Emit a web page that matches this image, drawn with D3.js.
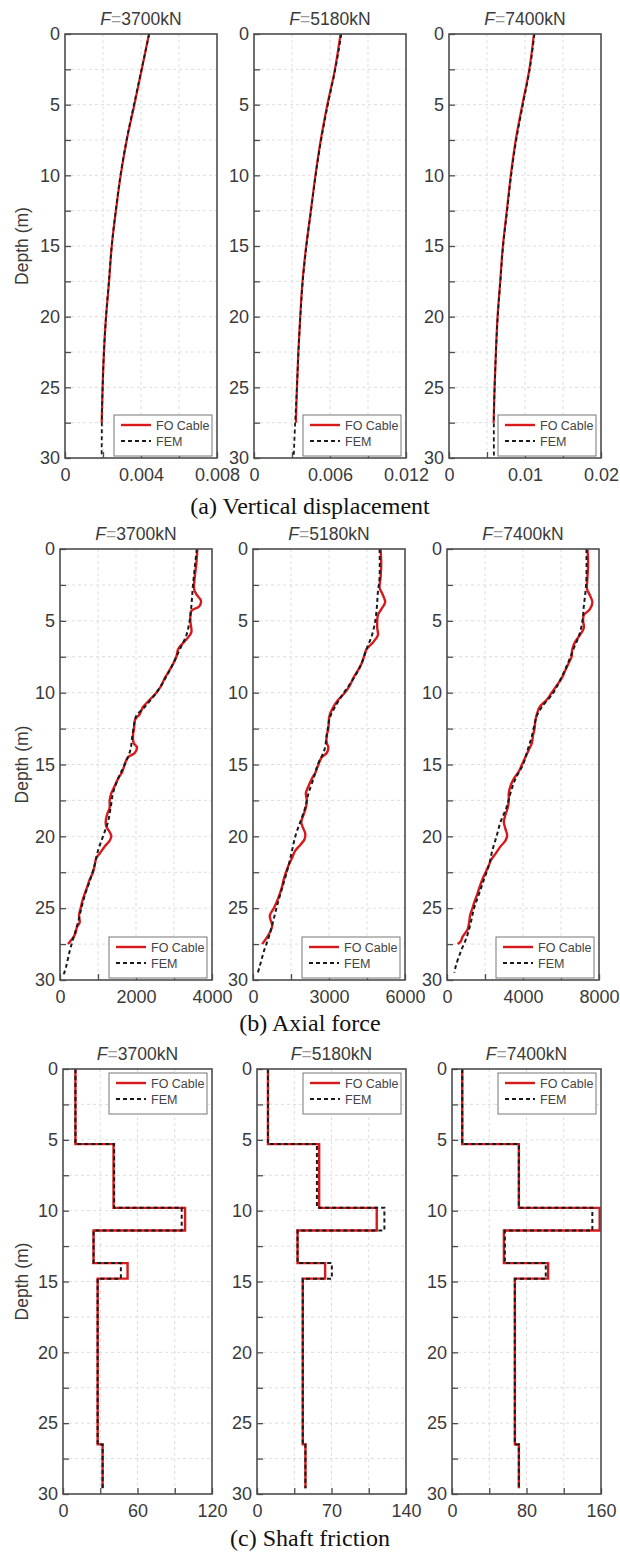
<!DOCTYPE html>
<html>
<head>
<meta charset="utf-8">
<script src="https://cdn.jsdelivr.net/npm/d3@7"></script>
<style>
  html, body { margin: 0; padding: 0; background: #fff; }
  svg { display: block; }
</style>
</head>
<body>
<svg id="chart" width="620" height="1555"></svg>
<script>
// ---------------- DATA ----------------
const loads = ["3700", "5180", "7400"];
const depthTicks = [0, 2.5, 5, 7.5, 10, 12.5, 15, 17.5, 20, 22.5, 25, 27.5, 30];

// (a) Vertical displacement (m)
const dispDepthFO = [0, 2.5, 5, 7.5, 10, 12.5, 15, 17.5, 20, 22.5, 25, 27.5];
const dispDepthFEM = [0, 2.5, 5, 7.5, 10, 12.5, 15, 17.5, 20, 22.5, 25, 27.5, 30];
const dispFO_3700 = [0.00442, 0.00404, 0.00365, 0.00325, 0.00293, 0.00268, 0.00246, 0.00232, 0.00216, 0.00205, 0.00198, 0.00193];
const dispFEM_3700 = [0.00443, 0.00403, 0.00363, 0.00324, 0.00292, 0.00267, 0.00246, 0.00231, 0.00216, 0.00205, 0.00198, 0.00194, 0.00193];
const dispFO_5180 = [0.00683, 0.00639, 0.00579, 0.00527, 0.00485, 0.00449, 0.00412, 0.00383, 0.00365, 0.00350, 0.00339, 0.00331];
const dispFEM_5180 = [0.00690, 0.00642, 0.00583, 0.00530, 0.00487, 0.00450, 0.00414, 0.00385, 0.00366, 0.00351, 0.00339, 0.00325, 0.00313];
const dispFO_7400 = [0.01117, 0.01057, 0.00965, 0.00878, 0.00813, 0.00761, 0.00709, 0.00674, 0.00639, 0.00617, 0.00600, 0.00587];
const dispFEM_7400 = [0.01125, 0.01062, 0.00972, 0.00885, 0.00818, 0.00765, 0.00712, 0.00676, 0.00641, 0.00618, 0.00600, 0.00590, 0.00591];
const dispXMax = [0.008, 0.012, 0.02];
const dispTickLabels = [["0", "0.004", "0.008"], ["0", "0.006", "0.012"], ["0", "0.01", "0.02"]];

// (b) Axial force (kN)
const axDepthFO_3700 = [0,1,2,2.8,3.2,3.6,4.0,4.3,5,5.8,6.3,6.8,7,7.5,8,8.5,9,9.5,10,10.5,11,11.5,11.8,12,12.5,13,13.5,13.8,14.2,14.5,15,15.5,16,16.5,17,17.5,18,18.5,19,19.3,19.7,20,20.3,20.7,21.2,21.5,22,22.5,23,23.5,24,24.5,25,25.5,26,26.3,26.7,27,27.3,27.5];
const axFO_3700 = [3614,3588,3544,3530,3600,3710,3660,3460,3430,3456,3325,3150,3105,3061,2974,2868,2754,2667,2535,2360,2184,2096,1991,1965,1947,1921,1938,2026,1965,1789,1702,1640,1526,1439,1351,1307,1307,1237,1202,1219,1307,1351,1307,1175,1044,956,912,868,781,719,649,588,544,500,518,447,412,360,272,210];
const axDepthFEM_3700 = [0,2.5,4,5,6,7,8,9,10,11,11.6,12,13,14,15,16,17,18,19,20,21,22,23,24,25,26,27,28,29,29.6];
const axFEM_3700 = [3600,3500,3456,3412,3325,3150,2974,2772,2535,2228,2009,1965,1903,1851,1702,1526,1395,1333,1263,1132,1000,912,798,667,561,474,360,254,167,100];

const axDepthFO_5180 = [0,1,2,2.7,3.2,3.7,4.2,4.6,5,5.5,6,6.5,7,7.5,8,8.5,9,9.5,10,10.5,11,11.5,11.8,12.5,13,13.5,13.8,14.2,14.5,15,15.5,16,16.5,17,17.5,18,18.5,19,19.5,19.8,20.2,20.6,21,21.5,22,22.5,23,23.5,24,24.5,25,25.5,25.8,26.2,26.6,27,27.5];
const axFO_5180 = [5035,5061,5035,4996,5126,5217,5061,4930,4904,4904,4930,4735,4474,4383,4278,4122,3952,3822,3626,3365,3170,3039,3000,2974,2909,2909,2974,2909,2713,2583,2478,2322,2191,2087,2126,2087,1996,1904,1996,2061,2035,1865,1670,1539,1409,1304,1213,1148,1057,952,822,665,691,757,691,561,365];
const axDepthFEM_5180 = [0,2,3,4,5,6,7,8,9,10,11,11.7,12,13,14,15,16,17,18,19,20,21,22,23,24,25,26,27,28,29,29.6];
const axFEM_5180 = [4996,4996,4930,4891,4826,4696,4474,4278,3978,3587,3235,3039,3000,2909,2817,2557,2387,2191,2061,1865,1670,1539,1409,1252,1083,926,783,626,430,274,170];

const axDepthFO_7400 = [0,1,2,2.8,3.2,3.7,4.2,4.6,5,5.5,6,6.5,7,7.5,8,8.5,9,9.5,10,10.5,11,11.5,12,12.5,13,13.5,14,14.5,15,15.5,16,16.5,17,17.5,18,18.5,19,19.5,19.9,20.3,20.7,21.2,21.7,22,22.5,23,23.5,24,24.5,25,25.5,26,26.5,27,27.3,27.5];
const axFO_7400 = [7391,7426,7391,7374,7513,7652,7513,7200,7165,7200,6991,6730,6591,6557,6383,6209,6035,5774,5513,5252,4870,4730,4643,4609,4522,4470,4296,4122,3948,3774,3513,3339,3252,3252,3200,3078,2991,3078,3165,3078,2817,2557,2296,2209,2035,1861,1722,1600,1461,1339,1217,1165,1078,817,730,557];
const axDepthFEM_7400 = [0,2,3,4,5,6,7,8,9,10,11,11.6,12,13,14,15,16,17,18,19,20,21,22,23,24,25,26,27,28,29,29.5];
const axFEM_7400 = [7339,7339,7287,7200,7130,6957,6643,6348,6000,5600,4991,4730,4643,4470,4243,4000,3600,3339,3130,2817,2609,2383,2209,1948,1687,1426,1252,1043,730,470,383];
const axXMax = [4000, 6000, 8000];
const axTickLabels = [["0", "2000", "4000"], ["0", "3000", "6000"], ["0", "4000", "8000"]];

// (c) Shaft friction (kPa) – layered values
const layerBounds = [0, 5.3, 9.8, 11.4, 13.7, 14.8, 26.5, 29.6];
const friFO_3700 = [10, 40.7, 98.3, 24.6, 52, 27.9, 31.9];
const friFEM_3700 = [10, 41.2, 95.6, 24.6, 46.6, 27.9, 31.9];
const friFO_5180 = [10.3, 58.4, 112.5, 38.1, 64, 43, 45.5];
const friFEM_5180 = [10.3, 56.3, 119.7, 38.1, 70.3, 43, 45.5];
const friFO_7400 = [11, 71.8, 158.6, 55.7, 103.2, 67.5, 71.8];
const friFEM_7400 = [11, 71.8, 150.7, 56.8, 100.7, 67.5, 71.8];
const friXMax = [120, 140, 160];
const friTickLabels = [["0", "60", "120"], ["0", "70", "140"], ["0", "80", "160"]];

const captions = ["(a) Vertical displacement", "(b) Axial force", "(c) Shaft friction"];
const legendLabels = ["FO Cable", "FEM"];

// ---------------- HELPERS ----------------
const zip = (ds, vs) => ds.map((d, i) => ({ d: d, v: vs[i] }));
function stepPts(bounds, vals) {
  const pts = [];
  vals.forEach((v, i) => { pts.push({ d: bounds[i], v: v }); pts.push({ d: bounds[i + 1], v: v }); });
  return pts;
}

const svg = d3.select("#chart");
const RED = "#d7191c";
const AXIS = "#4d4d4d";
const TXT = "#3a3a3a";
const SANS = "'Liberation Sans', Arial, sans-serif";
const SERIF = "'Liberation Serif', 'Times New Roman', serif";

const rows = [
  { top: 34, bottom: 458, lefts: [65, 254, 449], width: 152, legend: "bottom", caption: 514 },
  { top: 549, bottom: 980, lefts: [60, 253, 447], width: 152, legend: "bottom", caption: 1031 },
  { top: 1069, bottom: 1494, lefts: [63, 257, 452], width: 149, legend: "top", caption: 1546 }
];

const panelData = [
  [
    { fo: zip(dispDepthFO, dispFO_3700), fem: zip(dispDepthFEM, dispFEM_3700) },
    { fo: zip(dispDepthFO, dispFO_5180), fem: zip(dispDepthFEM, dispFEM_5180) },
    { fo: zip(dispDepthFO, dispFO_7400), fem: zip(dispDepthFEM, dispFEM_7400) }
  ],
  [
    { fo: zip(axDepthFO_3700, axFO_3700), fem: zip(axDepthFEM_3700, axFEM_3700) },
    { fo: zip(axDepthFO_5180, axFO_5180), fem: zip(axDepthFEM_5180, axFEM_5180) },
    { fo: zip(axDepthFO_7400, axFO_7400), fem: zip(axDepthFEM_7400, axFEM_7400) }
  ],
  [
    { fo: stepPts(layerBounds, friFO_3700), fem: stepPts(layerBounds, friFEM_3700), step: true },
    { fo: stepPts(layerBounds, friFO_5180), fem: stepPts(layerBounds, friFEM_5180), step: true },
    { fo: stepPts(layerBounds, friFO_7400), fem: stepPts(layerBounds, friFEM_7400), step: true }
  ]
];
const xMaxes = [dispXMax, axXMax, friXMax];
const tickLabelSets = [dispTickLabels, axTickLabels, friTickLabels];

rows.forEach((row, ri) => {
  const h = row.bottom - row.top;
  loads.forEach((load, pi) => {
    const left = row.lefts[pi], w = row.width;
    const xMax = xMaxes[ri][pi];
    const labels = tickLabelSets[ri][pi];
    const x = d3.scaleLinear().domain([0, xMax]).range([0, w]);
    const y = d3.scaleLinear().domain([0, 30]).range([0, h]);
    const g = svg.append("g").attr("transform", `translate(${left},${row.top})`);
    const xTicks = d3.range(0, 5).map(i => xMax * i / 4);

    // grid
    g.append("g").selectAll("line").data(xTicks.slice(1, 4)).join("line")
      .attr("x1", d => x(d)).attr("x2", d => x(d)).attr("y1", 0).attr("y2", h)
      .attr("stroke", "#d4d4d4").attr("stroke-width", 0.8).attr("stroke-dasharray", "3,3");
    g.append("g").selectAll("line").data(depthTicks.slice(1, -1)).join("line")
      .attr("x1", 0).attr("x2", w).attr("y1", d => y(d)).attr("y2", d => y(d))
      .attr("stroke", "#d4d4d4").attr("stroke-width", 0.8).attr("stroke-dasharray", "3,3");

    // axes
    const xAxis = d3.axisBottom(x).tickValues(xTicks).tickSizeInner(-6).tickSizeOuter(0).tickPadding(10)
      .tickFormat((d, i) => (i % 2 === 0 ? labels[i / 2] : ""));
    const gx = g.append("g").attr("transform", `translate(0,${h})`).call(xAxis);
    const yAxis = d3.axisLeft(y).tickValues(depthTicks).tickSizeInner(-6).tickSizeOuter(0).tickPadding(5)
      .tickFormat(d => (d % 5 === 0 ? d : ""));
    const gy = g.append("g").call(yAxis);
    [gx, gy].forEach(a => {
      a.select(".domain").remove();
      a.selectAll(".tick line").attr("stroke", AXIS).attr("stroke-width", 1.3);
      a.selectAll(".tick text").attr("fill", TXT).style("font-family", SANS).style("font-size", "18px");
    });

    // lines
    const line = d3.line().x(p => x(p.v)).y(p => y(p.d));
    if (!panelData[ri][pi].step) line.curve(d3.curveCatmullRom.alpha(0.5));
    const lw = ri === 0 ? 1.8 : 2;
    g.append("path").datum(panelData[ri][pi].fo).attr("d", line)
      .attr("fill", "none").attr("stroke", RED).attr("stroke-width", lw + 0.4);
    g.append("path").datum(panelData[ri][pi].fem).attr("d", line)
      .attr("fill", "none").attr("stroke", "#1a1a1a").attr("stroke-width", lw).attr("stroke-dasharray", "4,3");

    // frame
    g.append("rect").attr("x", 0).attr("y", 0).attr("width", w).attr("height", h)
      .attr("fill", "none").attr("stroke", AXIS).attr("stroke-width", 1.6);

    // title
    const t = g.append("text").attr("x", w / 2).attr("y", -9).attr("text-anchor", "middle")
      .attr("fill", TXT).style("font-family", SANS).style("font-size", "17.5px");
    t.append("tspan").style("font-style", "italic").text("F");
    t.append("tspan").attr("fill", "#9a9a9a").text("=");
    t.append("tspan").text(load + "kN");

    // legend
    const lgW = 98, lgH = 41;
    const lgX = w - lgW - 5;
    const lgY = row.legend === "bottom" ? h - lgH - 2 : 4;
    const lg = g.append("g").attr("transform", `translate(${lgX},${lgY})`);
    lg.append("rect").attr("width", lgW).attr("height", lgH).attr("fill", "#fff")
      .attr("stroke", "#777").attr("stroke-width", 1);
    legendLabels.forEach((lab, i) => {
      const yy = 10 + i * 16;
      lg.append("line").attr("x1", 7).attr("x2", 37).attr("y1", yy).attr("y2", yy)
        .attr("stroke", i === 0 ? RED : "#1a1a1a").attr("stroke-width", i === 0 ? 2.4 : 2)
        .attr("stroke-dasharray", i === 0 ? null : "4,3");
      lg.append("text").attr("x", 42).attr("y", yy + 4.5).attr("fill", "#444")
        .style("font-family", SANS).style("font-size", "12.5px").text(lab);
    });

    // y label
    if (pi === 0) {
      svg.append("text").attr("transform", `translate(22,${row.top + h / 2}) rotate(-90)`)
        .attr("text-anchor", "middle").attr("dy", "0.35em").attr("fill", TXT)
        .style("font-family", SANS).style("font-size", "17.5px").text("Depth (m)");
    }
  });

  svg.append("text").attr("x", 310).attr("y", row.caption).attr("text-anchor", "middle")
    .attr("fill", "#111").style("font-family", SERIF).style("font-size", "24px").text(captions[ri]);
});
</script>
</body>
</html>
